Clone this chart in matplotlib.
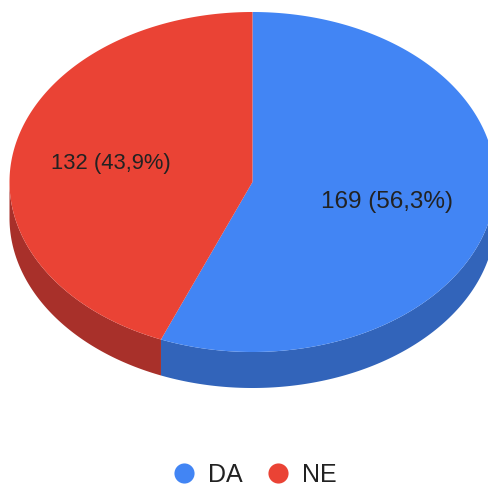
import numpy as np
import matplotlib.pyplot as plt
from matplotlib.patches import Polygon
from matplotlib.lines import Line2D

plt.rcParams['font.family'] = ['Liberation Sans', 'DejaVu Sans']

# data
labels = ['DA', 'NE']
values = [169, 132]
pct_text = ['56,3%', '43,9%']
top_colors = ['#4285F4', '#EA4335']
side_colors = ['#3264BA', '#A8302A']

# pie geometry in pixel coordinates
cx, cy = 252.5, 182.0
ra, rb = 243.0, 170.0
depth = 36.0


def pt(t, dy=0.0):
    return cx + ra * np.cos(t), cy - rb * np.sin(t) + dy


fig = plt.figure(figsize=(4.88, 4.86), dpi=100)
ax = fig.add_axes([0, 0, 1, 1])
ax.set_xlim(0, 488)
ax.set_ylim(486, 0)
ax.axis('off')

total = float(sum(values))
start = np.pi / 2
spans = []
for v in values:
    end = start - 2 * np.pi * v / total  # clockwise
    spans.append((start, end))
    start = end

# sides (visible front half only: angles in [pi, 2pi])
for (s, e), col in zip(spans, side_colors):
    lo, hi = min(s, e), max(s, e)
    for shift in (0, -2 * np.pi, 2 * np.pi):
        a0 = max(lo + shift, -np.pi)
        a1 = min(hi + shift, 0.0)
        if a1 > a0:
            t = np.linspace(a0, a1, 200)
            xs, ys = pt(t)
            xb, yb = pt(t[::-1], depth)
            poly = np.column_stack([np.concatenate([xs, xb]), np.concatenate([ys, yb])])
            ax.add_patch(Polygon(poly, closed=True, facecolor=col, edgecolor='none'))

# top faces
for (s, e), col in zip(spans, top_colors):
    t = np.linspace(s, e, 400)
    xs, ys = pt(t)
    poly = np.column_stack([np.concatenate([[cx], xs]), np.concatenate([[cy], ys])])
    ax.add_patch(Polygon(poly, closed=True, facecolor=col, edgecolor='none'))

# slice labels
ax.text(387, 202, f'{values[0]} ({pct_text[0]})', fontsize=17.5, color='#222222',
        ha='center', va='center')
ax.text(111, 163, f'{values[1]} ({pct_text[1]})', fontsize=15.8, color='#222222',
        ha='center', va='center')

# legend
handles = [Line2D([], [], linestyle='none', marker='o', markersize=14.5,
                  markerfacecolor=c, markeredgecolor='none') for c in top_colors]
ax.legend(handles, labels, loc='center', bbox_to_anchor=(254 / 488, 1 - 475 / 486),
          ncol=2, frameon=False, fontsize=18, handlelength=1.0, handletextpad=0.45,
          columnspacing=0.9, labelcolor='#222222')

fig.savefig('out.png', dpi=100)
